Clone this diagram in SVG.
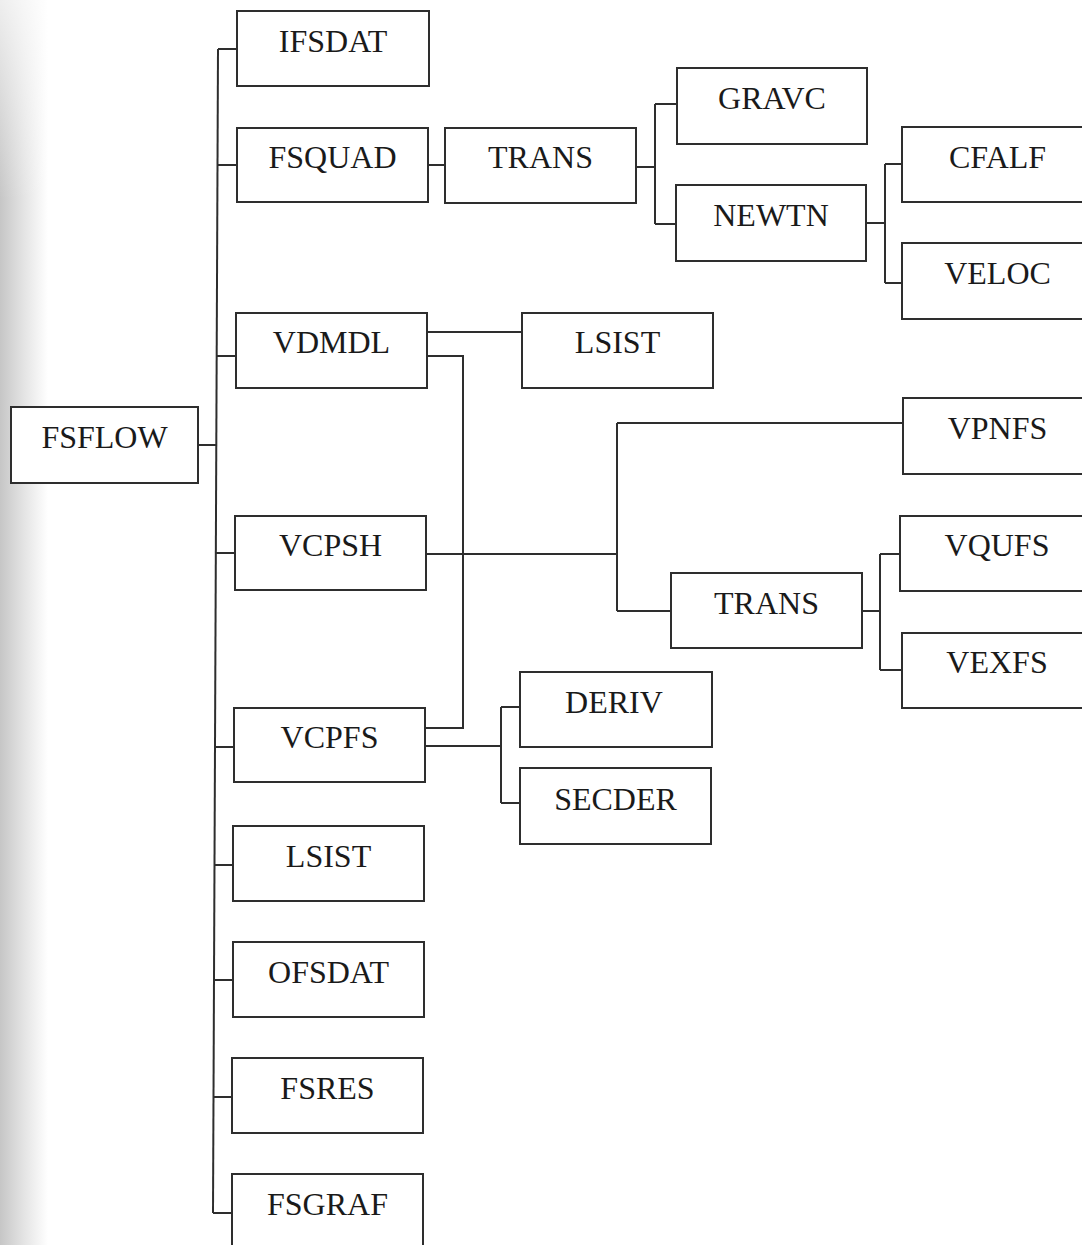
<svg xmlns="http://www.w3.org/2000/svg" width="1082" height="1245" viewBox="0 0 1082 1245">
<defs>
<linearGradient id="edge" x1="0" y1="0" x2="1" y2="0">
<stop offset="0" stop-color="#c6c6c6"/>
<stop offset="0.5" stop-color="#e4e4e4"/>
<stop offset="1" stop-color="#ffffff"/>
</linearGradient>
<linearGradient id="topfade" x1="0" y1="0" x2="0" y2="1">
<stop offset="0" stop-color="#ffffff" stop-opacity="0.7"/>
<stop offset="1" stop-color="#ffffff" stop-opacity="0"/>
</linearGradient>
<style>
.box{fill:#ffffff;stroke:#2e2e2e;stroke-width:2}
.lbl{font-family:"Liberation Serif","Times New Roman",serif;font-size:32px;fill:#1a1a1a;text-anchor:middle}
.con{fill:none;stroke:#2e2e2e;stroke-width:2}
</style>
</defs>
<rect x="0" y="0" width="1082" height="1245" fill="#ffffff"/>
<rect x="0" y="0" width="48" height="1245" fill="url(#edge)"/>
<rect x="0" y="0" width="48" height="200" fill="url(#topfade)"/>
<g id="connectors">
<path class="con" d="M218,49 L213,1213"/>
<path class="con" d="M198,445 L216.3,445"/>
<path class="con" d="M218,49 H237 M217.5,165 H237 M216.7,356 H236 M215.9,553 H235 M215,747 H234 M214.5,865 H233 M214,980 H233 M213.5,1097 H232 M213,1213 H232"/>
<path class="con" d="M428,165 H445"/>
<path class="con" d="M636,167 H655 M655,104 V224 M655,104 H677 M655,224 H676"/>
<path class="con" d="M866,223 H885 M885,164 V283 M885,164 H902 M885,283 H902"/>
<path class="con" d="M427,332 H522"/>
<path class="con" d="M427,356 H463 V728 H425"/>
<path class="con" d="M426,554 H617 M617,423 V611 M617,423 H903 M617,611 H671"/>
<path class="con" d="M862,611 H880 M880,554 V670 M880,554 H900 M880,670 H902"/>
<path class="con" d="M425,746 H501 M501,707 V803 M501,707 H520 M501,803 H520"/>
</g>
<g id="FSFLOW"><rect class="box" x="11" y="407" width="187" height="76"/><text class="lbl" x="104.5" y="448">FSFLOW</text></g>
<g id="IFSDAT"><rect class="box" x="237" y="11" width="192" height="75"/><text class="lbl" x="333" y="52">IFSDAT</text></g>
<g id="FSQUAD"><rect class="box" x="237" y="128" width="191" height="74"/><text class="lbl" x="332.5" y="168">FSQUAD</text></g>
<g id="VDMDL"><rect class="box" x="236" y="313" width="191" height="75"/><text class="lbl" x="331.5" y="353">VDMDL</text></g>
<g id="VCPSH"><rect class="box" x="235" y="516" width="191" height="74"/><text class="lbl" x="330.5" y="556">VCPSH</text></g>
<g id="VCPFS"><rect class="box" x="234" y="708" width="191" height="74"/><text class="lbl" x="329.5" y="748">VCPFS</text></g>
<g id="LSIST_main"><rect class="box" x="233" y="826" width="191" height="75"/><text class="lbl" x="328.5" y="867">LSIST</text></g>
<g id="OFSDAT"><rect class="box" x="233" y="942" width="191" height="75"/><text class="lbl" x="328.5" y="983">OFSDAT</text></g>
<g id="FSRES"><rect class="box" x="232" y="1058" width="191" height="75"/><text class="lbl" x="327.5" y="1099">FSRES</text></g>
<g id="FSGRAF"><rect class="box" x="232" y="1174" width="191" height="76"/><text class="lbl" x="327.5" y="1215">FSGRAF</text></g>
<g id="TRANS_1"><rect class="box" x="445" y="128" width="191" height="75"/><text class="lbl" x="540.5" y="168">TRANS</text></g>
<g id="GRAVC"><rect class="box" x="677" y="68" width="190" height="76"/><text class="lbl" x="772" y="109">GRAVC</text></g>
<g id="NEWTN"><rect class="box" x="676" y="185" width="190" height="76"/><text class="lbl" x="771" y="226">NEWTN</text></g>
<g id="CFALF"><rect class="box" x="902" y="127" width="191" height="75"/><text class="lbl" x="997.5" y="168">CFALF</text></g>
<g id="VELOC"><rect class="box" x="902" y="243" width="191" height="76"/><text class="lbl" x="997.5" y="284">VELOC</text></g>
<g id="LSIST_2"><rect class="box" x="522" y="313" width="191" height="75"/><text class="lbl" x="617.5" y="353">LSIST</text></g>
<g id="VPNFS"><rect class="box" x="903" y="398" width="191" height="76"/><text class="lbl" x="997.5" y="439">VPNFS</text></g>
<g id="TRANS_2"><rect class="box" x="671" y="573" width="191" height="75"/><text class="lbl" x="766.5" y="614">TRANS</text></g>
<g id="VQUFS"><rect class="box" x="900" y="516" width="192" height="75"/><text class="lbl" x="997" y="556">VQUFS</text></g>
<g id="VEXFS"><rect class="box" x="902" y="633" width="191" height="75"/><text class="lbl" x="997" y="673">VEXFS</text></g>
<g id="DERIV"><rect class="box" x="520" y="672" width="192" height="75"/><text class="lbl" x="614" y="713">DERIV</text></g>
<g id="SECDER"><rect class="box" x="520" y="768" width="191" height="76"/><text class="lbl" x="615.5" y="810">SECDER</text></g>
</svg>
